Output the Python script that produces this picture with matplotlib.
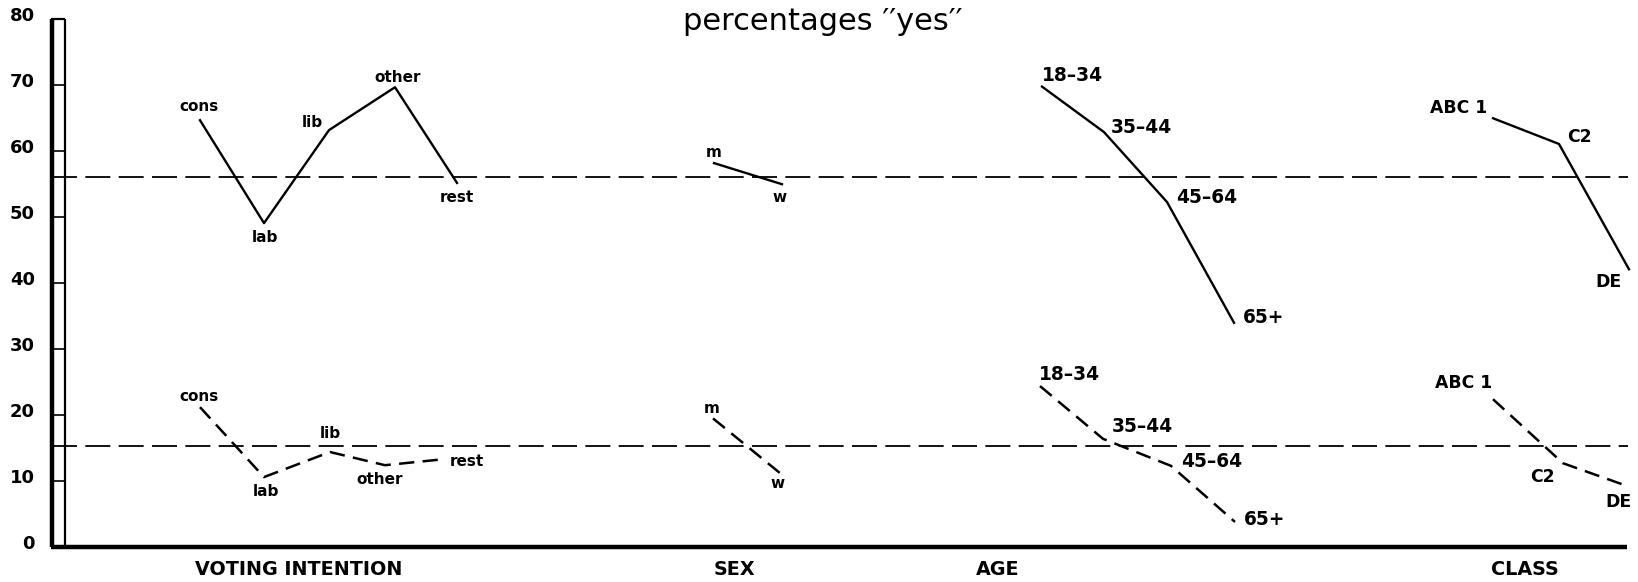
import matplotlib
matplotlib.use('Agg')
import matplotlib.pyplot as plt

plt.rcParams['font.family'] = ['DejaVu Sans']
plt.rcParams['font.weight'] = 'bold'
plt.rcParams['lines.scale_dashes'] = False

# groups along the bottom
groups = ['VOTING INTENTION', 'SEX', 'AGE', 'CLASS']
group_x = [249, 684, 948, 1475]

# voting intention
vote_labels = ['cons', 'lab', 'lib', 'other', 'rest']
vote_x_top = [150, 214, 279, 345, 407]
vote_top = [64.7, 49.1, 63.2, 69.7, 55.2]
vote_x_bot = [150, 214, 280, 335, 393]
vote_bot = [21.2, 10.6, 14.4, 12.4, 13.3]

# sex
sex_labels = ['m', 'w']
sex_x_top = [664, 732]
sex_top = [58.2, 55.0]
sex_x_bot = [663, 730]
sex_bot = [19.5, 11.2]

# age
age_labels = ['18\u201334', '35\u201344', '45\u201364', '65+']
age_x_top = [992, 1054, 1117, 1184]
age_top = [69.8, 62.9, 52.3, 34.0]
age_x_bot = [990, 1053, 1121, 1185]
age_bot = [24.4, 16.4, 12.3, 3.8]

# class
class_labels = ['ABC 1', 'C2', 'DE']
class_x_top = [1443, 1509, 1579]
class_top = [65.0, 61.1, 42.1]
class_x_bot = [1443, 1513, 1578]
class_bot = [22.4, 12.7, 9.2]

# overall levels (dashed reference lines)
overall_top = 56.1
overall_bot = 15.3

yticks = [0, 10, 20, 30, 40, 50, 60, 70, 80]

# label placement: (ha, dx, dy) in pixels
vote_pos_top = [('center', -1, 14), ('center', 1, -14), ('right', -6, 8),
                ('center', 3, 10), ('center', 0, -15)]
vote_pos_bot = [('center', -1, 11), ('center', 2, -14), ('center', 0, 19),
                ('center', -5, -14), ('left', 7, -2)]
sex_pos_top = [('center', 0, 11), ('center', -2, -13)]
sex_pos_bot = [('center', -1, 10), ('center', -2, -10)]
age_pos_top = [('left', 0, 11), ('left', 7, 5), ('left', 9, 5), ('left', 9, 5)]
age_pos_bot = [('left', -1, 12), ('left', 9, 12), ('left', 10, 4), ('left', 9, 2)]
class_pos_top = [('right', -6, 10), ('left', 8, 7), ('right', -7, -13)]
class_pos_bot = [('right', -1, 16), ('right', -8, -14), ('right', 4, -16)]

fig = plt.figure(figsize=(16.38, 5.82), dpi=100)
ax = fig.add_axes([50 / 1638, 35 / 582, 1578 / 1638, 527.7 / 582])
ax.set_xlim(0, 1578)
ax.set_ylim(0, 80)
ax.axis('off')

# y axis drawn as a hollow bar
ax.plot([2, 2], [0, 80], color='black', lw=3.2, solid_capstyle='butt', clip_on=False)
ax.plot([14.5, 14.5], [0, 80], color='black', lw=1.6, solid_capstyle='butt', clip_on=False)
ax.hlines(80, 0.5, 15, color='black', lw=1.6, clip_on=False)
ax.hlines(yticks[1:-1], 2, 14.5, color='black', lw=1.2, clip_on=False)
for t in yticks:
    ax.annotate(str(t), (0, t), xytext=(-15, 3), textcoords='offset pixels',
                ha='right', va='center', fontsize=13, annotation_clip=False)

# x axis
ax.plot([0.5, 1577], [0, 0], color='black', lw=3.2, solid_capstyle='butt', clip_on=False)
for name, gx in zip(groups, group_x):
    ax.annotate(name, (gx, 0), xytext=(0, -13), textcoords='offset pixels',
                ha='center', va='top', fontsize=13.8, annotation_clip=False)

# overall reference lines
for lvl in [overall_top, overall_bot]:
    ax.plot([2, 1578], [lvl, lvl], color='black', lw=1.3,
            dashes=(18, 6), clip_on=False)

top_series = [
    (vote_x_top, vote_top, vote_labels, vote_pos_top, 11),
    (sex_x_top, sex_top, sex_labels, sex_pos_top, 11),
    (age_x_top, age_top, age_labels, age_pos_top, 13.4),
    (class_x_top, class_top, class_labels, class_pos_top, 12.4),
]
bot_series = [
    (vote_x_bot, vote_bot, vote_labels, vote_pos_bot, 11),
    (sex_x_bot, sex_bot, sex_labels, sex_pos_bot, 11),
    (age_x_bot, age_bot, age_labels, age_pos_bot, 13.4),
    (class_x_bot, class_bot, class_labels, class_pos_bot, 12.4),
]

for xs, ys, labs, pos, fs in top_series:
    ax.plot(xs, ys, color='black', lw=1.7, clip_on=False)
    for x, y, lab, (ha, dx, dy) in zip(xs, ys, labs, pos):
        ax.annotate(lab, (x, y), xytext=(dx, dy), textcoords='offset pixels',
                    ha=ha, va='center', fontsize=fs, annotation_clip=False)

for xs, ys, labs, pos, fs in bot_series:
    ax.plot(xs, ys, color='black', lw=1.8, dashes=(11, 6), clip_on=False)
    for x, y, lab, (ha, dx, dy) in zip(xs, ys, labs, pos):
        ax.annotate(lab, (x, y), xytext=(dx, dy), textcoords='offset pixels',
                    ha=ha, va='center', fontsize=fs, annotation_clip=False)

fig.text(823 / 1638, 1 - 22 / 582, "percentages \u2032\u2032yes\u2032\u2032",
         ha='center', va='center', fontsize=22, fontweight='normal')

fig.savefig('out.png', dpi=100)
